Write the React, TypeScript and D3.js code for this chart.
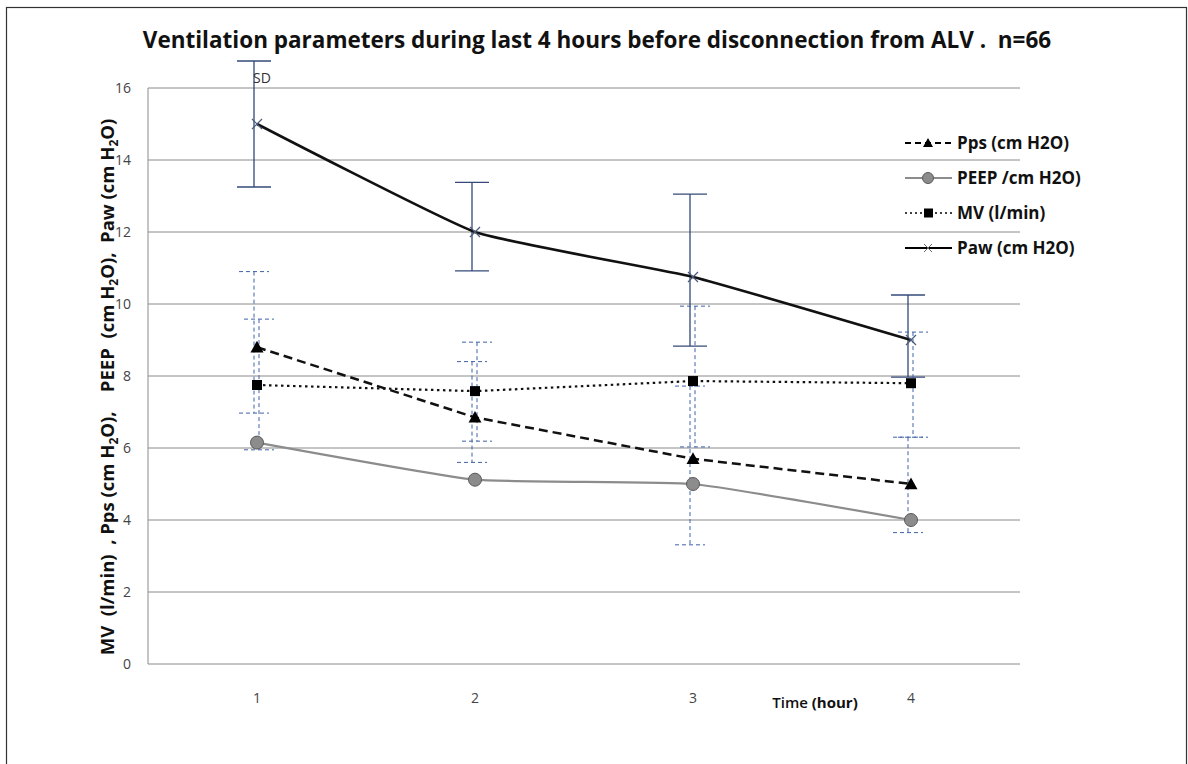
import React from 'react'
import * as d3 from 'd3'

// hours on the x axis
const hours = ['1', '2', '3', '4']
const yTicks = [0, 2, 4, 6, 8, 10, 12, 14, 16]

// series means
const pps = [8.8, 6.85, 5.7, 5.0]
const peep = [6.15, 5.12, 5.0, 4.0]
const mv = [7.75, 7.58, 7.86, 7.8]
const paw = [15.0, 12.0, 10.75, 9.0]

// SD bar ends
const ppsHi = [10.9, 8.4, 7.72, 6.3]
const ppsLo = [6.97, 5.6, 3.31, 3.65]
const mvHi = [9.58, 8.94, 9.94, 9.22]
const mvLo = [5.95, 6.19, 6.03, 6.3]
const pawHi = [16.75, 13.38, 13.05, 10.25]
const pawLo = [13.25, 10.92, 8.83, 7.97]

const W = 1188
const H = 764
const left = 148, right = 1020, top = 88, bottom = 664
const font = '"Open Sans", Lato, sans-serif'

export default function App() {
  const x = d3.scaleBand().domain(hours).range([left, right])
  const cx = (i: number) => (x(hours[i]) as number) + x.bandwidth() / 2
  const y = d3.scaleLinear().domain([0, 16]).range([bottom, top])

  const line = (vals: number[], curve: d3.CurveFactory = d3.curveCardinal.tension(0.6)) =>
    d3.line<number>().x((d, i) => cx(i)).y(d => y(d)).curve(curve)(vals) as string

  const errBars = (hi: number[], lo: number[], dx: number, color: string, dash: string | undefined, half: number, w: number) =>
    hi.map((h, i) => {
      const xx = cx(i) + dx
      return (
        <g key={i} stroke={color} strokeWidth={w} strokeDasharray={dash} fill="none">
          <line x1={xx} x2={xx} y1={y(h)} y2={y(lo[i])} />
          <line x1={xx - half} x2={xx + half} y1={y(h)} y2={y(h)} />
          <line x1={xx - half} x2={xx + half} y1={y(lo[i])} y2={y(lo[i])} />
        </g>
      )
    })

  const tri = (px: number, py: number, s = 6.5) => `M${px},${py - s}L${px + s},${py + s * 0.8}L${px - s},${py + s * 0.8}Z`
  const cross = (px: number, py: number, s = 5) => `M${px - s},${py - s}L${px + s},${py + s}M${px - s},${py + s}L${px + s},${py - s}`

  const legend = [
    { name: 'Pps (cm H2O)', kind: 'tri', dash: '6,4', color: '#000', w: 2 },
    { name: 'PEEP /cm H2O)', kind: 'circle', dash: undefined, color: '#8c8c8c', w: 2 },
    { name: 'MV (l/min)', kind: 'square', dash: '2,3', color: '#000', w: 1.5 },
    { name: 'Paw (cm H2O)', kind: 'cross', dash: undefined, color: '#000', w: 2 },
  ]
  const legY = d3.scaleLinear().domain([0, 3]).range([143, 248])

  return (
    <svg width={W} height={H} style={{ position: 'absolute', left: 0, top: 0, background: '#fff' }} fontFamily={font}>
      <rect x={6.5} y={7.5} width={1180} height={800} fill="#fff" stroke="#333" strokeWidth={1.2} />
      <text x={597} y={48} textAnchor="middle" fontSize={22.5} fontWeight="bold" fill="#111" xmlSpace="preserve">
        Ventilation parameters during last 4 hours before disconnection from ALV .  n=66
      </text>

      {/* grid */}
      {yTicks.map(t => (
        <g key={t}>
          <line x1={left} x2={right} y1={y(t)} y2={y(t)} stroke="#8a8a8a" strokeWidth={1} />
          <text x={131} y={y(t) + 5} textAnchor="end" fontSize={14} fill="#444">{t}</text>
        </g>
      ))}
      <line x1={left} x2={left} y1={top} y2={bottom} stroke="#8a8a8a" />
      {hours.map((h, i) => (
        <text key={h} x={cx(i)} y={703} textAnchor="middle" fontSize={14} fill="#444">{h}</text>
      ))}
      <text x={815} y={708} textAnchor="middle" fontSize={15} fill="#111">
        <tspan fontWeight="600">Time </tspan>
        <tspan fontWeight="bold">(hour)</tspan>
      </text>

      <text transform={`translate(114,${387}) rotate(-90)`} textAnchor="middle" fontSize={18.5} fontWeight="bold" fill="#111" xmlSpace="preserve">
        <tspan>MV  (l/min)  , Pps (cm H</tspan>
        <tspan fontSize={12} dy={4}>2</tspan>
        <tspan dy={-4}>O),    PEEP  (cm H</tspan>
        <tspan fontSize={12} dy={4}>2</tspan>
        <tspan dy={-4}>O),  Paw (cm H</tspan>
        <tspan fontSize={12} dy={4}>2</tspan>
        <tspan dy={-4}>O)</tspan>
      </text>

      {/* SD bars */}
      {errBars(pawHi, pawLo, -3, '#34497a', undefined, 17, 1.3)}
      {errBars(ppsHi, ppsLo, -3, '#3f62a8', '4,3', 15, 1)}
      {errBars(mvHi, mvLo, 2, '#3f62a8', '4,3', 15, 1)}
      <text x={253} y={83} fontSize={14} fill="#333">SD</text>

      {/* lines */}
      <path d={line(peep)} fill="none" stroke="#8c8c8c" strokeWidth={2.2} />
      <path d={line(mv, d3.curveLinear)} fill="none" stroke="#111" strokeWidth={2.2} strokeDasharray="2.5,3.5" />
      <path d={line(pps, d3.curveLinear)} fill="none" stroke="#111" strokeWidth={2.5} strokeDasharray="9,5" />
      <path d={line(paw)} fill="none" stroke="#111" strokeWidth={2.6} />

      {/* markers */}
      {peep.map((v, i) => <circle key={'c' + i} cx={cx(i)} cy={y(v)} r={6.5} fill="#8c8c8c" stroke="#5a5a5a" strokeWidth={1} />)}
      {mv.map((v, i) => <rect key={'s' + i} x={cx(i) - 5} y={y(v) - 5} width={10} height={10} fill="#000" />)}
      {pps.map((v, i) => <path key={'t' + i} d={tri(cx(i), y(v))} fill="#000" />)}
      {paw.map((v, i) => <path key={'x' + i} d={cross(cx(i), y(v))} stroke="#4a5a7a" strokeWidth={1.2} fill="none" />)}

      {/* legend */}
      {legend.map((l, i) => {
        const ly = legY(i)
        return (
          <g key={l.name}>
            <line x1={905} x2={952} y1={ly} y2={ly} stroke={l.color} strokeWidth={l.w} strokeDasharray={l.dash} />
            {l.kind === 'tri' && <path d={tri(928, ly, 5)} fill="#000" />}
            {l.kind === 'circle' && <circle cx={928} cy={ly} r={5.5} fill="#8c8c8c" stroke="#5a5a5a" />}
            {l.kind === 'square' && <rect x={924} y={ly - 4.5} width={9} height={9} fill="#000" />}
            {l.kind === 'cross' && <path d={cross(928, ly, 4)} stroke="#666" fill="none" />}
            <text x={957} y={ly + 6} fontSize={17} fontWeight="bold" fill="#111">{l.name}</text>
          </g>
        )
      })}
    </svg>
  )
}
